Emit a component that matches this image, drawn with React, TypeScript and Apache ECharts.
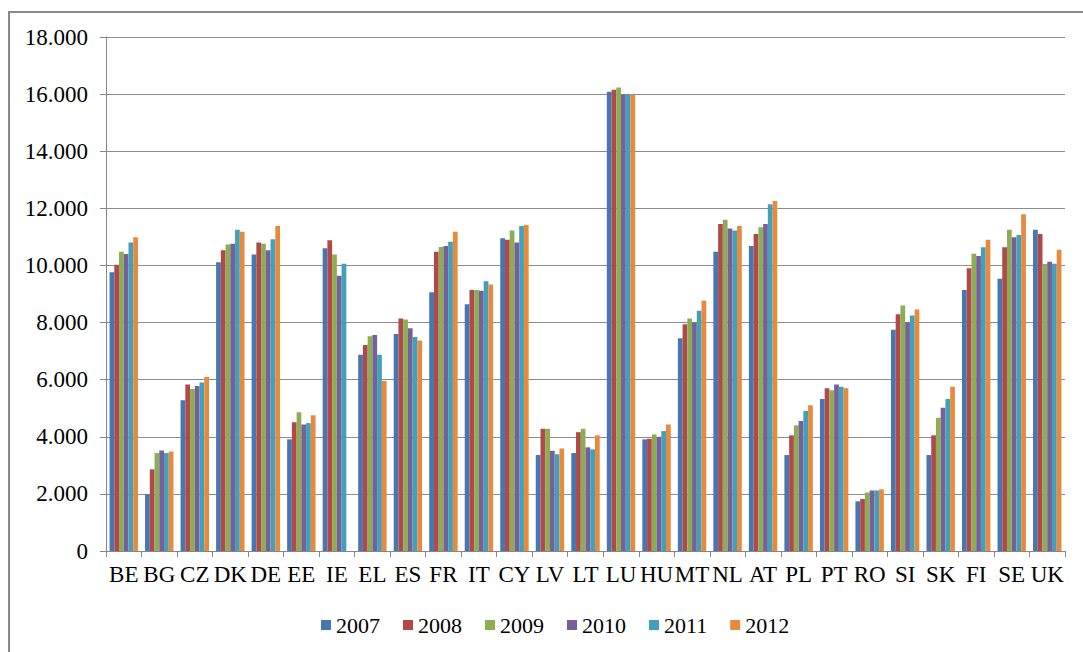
import React, { useEffect, useRef } from "react";
import * as echarts from "echarts";

const categories = ["BE","BG","CZ","DK","DE","EE","IE","EL","ES","FR","IT","CY","LV","LT","LU","HU","MT","NL","AT","PL","PT","RO","SI","SK","FI","SE","UK"];
const years = ["2007","2008","2009","2010","2011","2012"];
const colors = ["#4876B0","#B0494A","#8EAD52","#76609A","#43A0BA","#E68A3E"];

const v2007 = [9760,1980,5280,10110,10380,3910,10600,6870,7600,9060,8640,10950,3360,3430,16080,3910,7450,10480,10680,3360,5320,1740,7750,3360,9140,9530,11250];
const v2008 = [10020,2860,5830,10530,10800,4510,10880,7210,8140,10480,9140,10900,4280,4160,16150,3930,7940,11450,11100,4050,5700,1820,8290,4050,9900,10640,11100];
const v2009 = [10480,3430,5670,10730,10760,4860,10380,7520,8110,10650,9140,11220,4280,4280,16230,4080,8140,11600,11340,4400,5630,2050,8600,4670,10410,11250,10050];
const v2010 = [10400,3520,5780,10760,10530,4430,9640,7560,7800,10680,9110,10800,3510,3630,15990,4000,8000,11290,11450,4550,5830,2120,8010,5020,10330,10990,10130];
const v2011 = [10800,3430,5900,11250,10920,4480,10060,6870,7490,10830,9450,11380,3390,3560,15990,4200,8410,11220,12140,4900,5750,2120,8250,5320,10640,11070,10060];
const v2012 = [10990,3480,6090,11180,11380,4750,null,5950,7370,11180,9330,11420,3590,4050,15990,4430,8760,11380,12260,5100,5700,2160,8460,5750,10900,11790,10550];
const seriesValues = [v2007, v2008, v2009, v2010, v2011, v2012];
const yTicks = { min: 0, max: 18000, interval: 2000 };

const FONT = "Liberation Serif";

export default function App() {
  const ref = useRef<HTMLDivElement>(null);
  useEffect(() => {
    if (!ref.current) return;
    const chart = echarts.init(ref.current, undefined, { renderer: "svg" });
    chart.setOption({
      animation: false,
      backgroundColor: "#ffffff",
      color: colors,
      textStyle: { fontFamily: FONT, color: "#000" },
      grid: { left: 106, right: 18, top: 37, bottom: 101, containLabel: false },
      graphic: [
        {
          type: "rect",
          shape: { x: 9, y: 12, width: 1200, height: 800 },
          style: { fill: "none", stroke: "#8a8a8a", lineWidth: 2 },
          silent: true,
          z: -1,
        },
      ],
      legend: {
        data: years,
        left: 316,
        top: 609,
        itemWidth: 10,
        itemHeight: 10,
        itemGap: 23,
        icon: "rect",
        textStyle: { fontFamily: FONT, fontSize: 22, color: "#000" },
      },
      xAxis: {
        type: "category",
        data: categories,
        axisLine: { show: true, lineStyle: { color: "#868686", width: 1 } },
        axisTick: { show: true, length: 6, alignWithLabel: false, lineStyle: { color: "#868686" } },
        axisLabel: { interval: 0, fontFamily: FONT, fontSize: 23, color: "#000", margin: 12 },
        splitLine: { show: false },
      },
      yAxis: {
        type: "value",
        min: yTicks.min,
        max: yTicks.max,
        interval: yTicks.interval,
        axisLine: { show: true, lineStyle: { color: "#868686", width: 1 } },
        axisTick: { show: true, length: 6, lineStyle: { color: "#868686" } },
        axisLabel: {
          fontFamily: FONT,
          fontSize: 23,
          color: "#000",
          margin: 18,
          formatter: (v: number) => (v === 0 ? "0" : (v / 1000).toFixed(3)),
        },
        splitLine: { show: true, lineStyle: { color: "#8c8c8c", width: 1.2 } },
      },
      series: years.map((y, i) => ({
        name: y,
        type: "bar",
        data: seriesValues[i],
        barGap: "0%",
        barCategoryGap: "20%",
        itemStyle: { color: colors[i] },
      })),
    });
    return () => chart.dispose();
  }, []);
  return (
    <div
      ref={ref}
      style={{ position: "fixed", left: 0, top: 0, width: 1083, height: 652, background: "#fff" }}
    />
  );
}
